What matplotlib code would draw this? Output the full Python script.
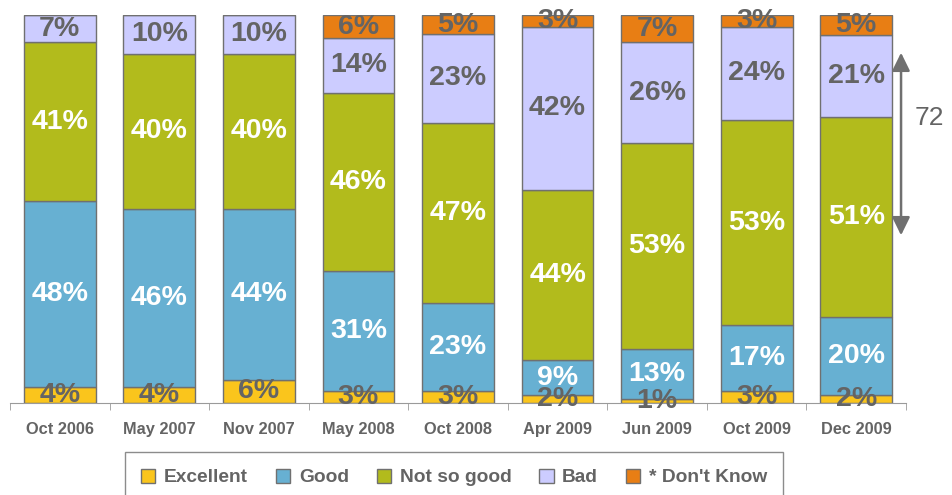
import numpy as np
import matplotlib.pyplot as plt

plt.rcParams['font.family'] = ['Liberation Sans', 'DejaVu Sans']

# datos
fechas = ["Oct 2006", "May 2007", "Nov 2007", "May 2008", "Oct 2008",
          "Apr 2009", "Jun 2009", "Oct 2009", "Dec 2009"]
excellent = [4, 4, 6, 3, 3, 2, 1, 3, 2]
good = [48, 46, 44, 31, 23, 9, 13, 17, 20]
not_so_good = [41, 40, 40, 46, 47, 44, 53, 53, 51]
bad = [7, 10, 10, 14, 23, 42, 26, 24, 21]
dont_know = [0, 0, 0, 6, 5, 3, 7, 3, 5]
diferencia = 72  # Bad + Not so good en Dec 2009

series = [excellent, good, not_so_good, bad, dont_know]
nombres = ["Excellent", "Good", "Not so good", "Bad", "* Don't Know"]
colores = ["#FAC51C", "#67B0D2", "#B2BB1C", "#CCCCFF", "#E87E14"]
col_texto = ["#646464", "white", "white", "#646464", "#646464"]
gris = "#707070"

# cada barra llega al 100% (los redondeos no siempre suman 100)
totales = np.sum(np.array(series, dtype=float), axis=0)

fig = plt.figure(figsize=(9.52, 4.95), dpi=100)
ax = fig.add_axes([0.0105, 0.1859, 0.9412, 0.7838])

x = np.arange(len(fechas))
base = np.zeros(len(fechas))
for vals, nom, col, ct in zip(series, nombres, colores, col_texto):
    vals = np.array(vals, dtype=float)
    alto = vals / totales * 100
    ax.bar(x, alto, width=0.72, bottom=base, color=col, edgecolor=gris,
           linewidth=1, label=nom)
    for xi, b, h, v in zip(x, base, alto, vals):
        if v > 0:
            ax.text(xi, b + h / 2, f"{int(v)}%", ha="center", va="center",
                    color=ct, fontsize=20.5, fontweight="bold")
    base += alto

ax.set_xlim(-0.5, len(fechas) - 0.5)
ax.set_ylim(0, 100)
for s in ["top", "right", "left"]:
    ax.spines[s].set_visible(False)
ax.spines["bottom"].set_color("#9a9a9a")
ax.set_yticks([])
ax.set_xticks(x)
ax.set_xticklabels(fechas, fontsize=11.8, fontweight="bold", color="#646464")
ax.tick_params(axis="x", which="major", length=0, pad=14)
ax.set_xticks(np.arange(-0.5, len(fechas)), minor=True)
ax.tick_params(axis="x", which="minor", length=5, color="#9a9a9a")

# flecha doble a la derecha
ax.annotate("", xy=(8.45, 91), xytext=(8.45, 42.5),
            arrowprops=dict(arrowstyle="<|-|>,head_length=0.55,head_width=0.27",
                            color=gris, lw=1.8, mutation_scale=20),
            annotation_clip=False)
ax.text(8.59, 73.5, str(diferencia), fontsize=19, color="#646464",
        ha="left", va="center", clip_on=False)

leg = fig.legend(loc="lower center", bbox_to_anchor=(0.477, -0.035), ncol=5,
                 frameon=True, fancybox=False, edgecolor=gris,
                 fontsize=13.8, handlelength=0.75, handleheight=0.75,
                 columnspacing=1.45, handletextpad=0.45, borderpad=0.85)
for t in leg.get_texts():
    t.set_color("#646464")
    t.set_fontweight("bold")

fig.savefig("out.png", dpi=100)
